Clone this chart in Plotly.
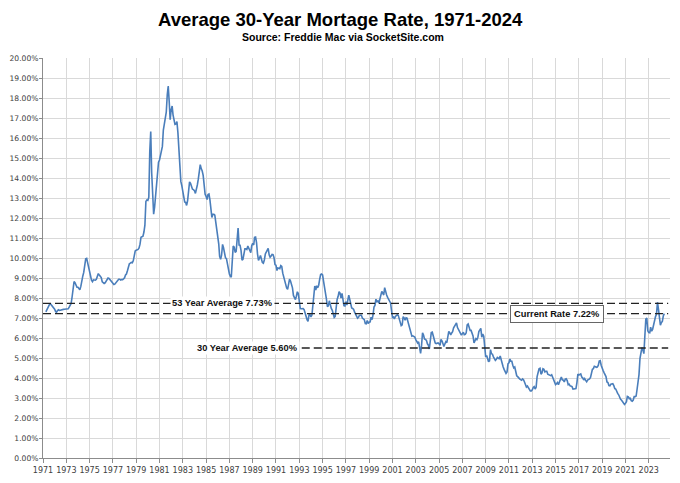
import plotly.graph_objects as go
import pandas as pd

# Monthly average 30-year fixed mortgage rate (%), starting April 1971
start_month = "1971-04-01"
rates_1970s = [
    7.31, 7.43, 7.53, 7.60, 7.70, 7.69, 7.63, 7.55, 7.48,               # 1971 Apr-Dec
    7.44, 7.32, 7.29, 7.37, 7.41, 7.38, 7.40, 7.41, 7.42, 7.43, 7.44, 7.44,  # 1972
    7.44, 7.44, 7.46, 7.54, 7.65, 7.73, 8.05, 8.50, 8.82, 8.77, 8.58, 8.54,  # 1973
    8.54, 8.46, 8.41, 8.58, 8.97, 9.09, 9.28, 9.59, 9.96, 9.98, 9.79, 9.62,  # 1974
    9.43, 9.10, 8.89, 8.82, 8.91, 8.89, 8.89, 8.94, 9.13, 9.22, 9.15, 9.10,  # 1975
    9.02, 8.81, 8.76, 8.73, 8.76, 8.85, 8.93, 9.00, 8.98, 8.92, 8.81, 8.79,  # 1976
    8.72, 8.67, 8.69, 8.75, 8.83, 8.86, 8.94, 8.94, 8.90, 8.92, 8.92, 8.96,  # 1977
    9.01, 9.15, 9.20, 9.36, 9.57, 9.71, 9.74, 9.78, 9.76, 9.86, 10.11, 10.35,  # 1978
    10.39, 10.41, 10.43, 10.50, 10.69, 11.04, 11.09, 11.09, 11.30, 11.64, 12.83, 12.90,  # 1979
]
rates_1980s = [
    12.88, 13.04, 15.28, 16.32, 14.26, 12.71, 12.19, 12.56, 13.20, 13.79, 14.21, 14.79,  # 1980
    14.90, 15.13, 15.40, 15.58, 16.40, 16.70, 16.83, 17.29, 18.16, 18.60, 17.83, 16.92,  # 1981
    17.40, 17.60, 17.16, 16.89, 16.68, 16.70, 16.82, 16.27, 15.43, 14.61, 13.83, 13.62,  # 1982
    13.25, 13.04, 12.80, 12.78, 12.63, 12.87, 13.42, 13.81, 13.73, 13.54, 13.44, 13.42,  # 1983
    13.37, 13.23, 13.39, 13.65, 13.94, 14.42, 14.67, 14.47, 14.35, 14.13, 13.64, 13.18,  # 1984
    13.08, 12.92, 13.17, 13.20, 12.91, 12.22, 12.03, 12.19, 12.19, 12.14, 11.78, 11.26,  # 1985
    10.88, 10.71, 10.08, 9.94, 10.14, 10.68, 10.51, 10.20, 10.01, 9.97, 9.70, 9.31,  # 1986
    9.20, 9.08, 9.04, 9.83, 10.60, 10.54, 10.28, 10.33, 10.89, 11.50, 10.65, 10.64,  # 1987
    10.38, 9.89, 9.93, 10.20, 10.46, 10.46, 10.43, 10.60, 10.48, 10.30, 10.27, 10.61,  # 1988
    10.73, 10.65, 11.03, 11.05, 10.77, 10.20, 9.88, 9.99, 10.13, 9.95, 9.77, 9.74,  # 1989
]
rates_1990s = [
    9.90, 10.20, 10.27, 10.37, 10.48, 10.16, 10.04, 10.10, 10.18, 10.17, 10.01, 9.67,  # 1990
    9.64, 9.37, 9.50, 9.49, 9.47, 9.62, 9.58, 9.24, 9.01, 8.86, 8.71, 8.50,  # 1991
    8.43, 8.76, 8.94, 8.85, 8.67, 8.51, 8.13, 7.98, 7.92, 8.09, 8.31, 8.22,  # 1992
    7.91, 7.47, 7.46, 7.46, 7.47, 7.42, 7.21, 7.11, 6.92, 6.83, 7.16, 7.17,  # 1993
    7.06, 7.15, 7.68, 8.32, 8.60, 8.40, 8.61, 8.51, 8.64, 8.93, 9.17, 9.20,  # 1994
    9.15, 8.83, 8.46, 8.32, 7.96, 7.57, 7.61, 7.86, 7.64, 7.48, 7.38, 7.20,  # 1995
    7.03, 7.08, 7.62, 7.93, 8.07, 8.32, 8.25, 8.00, 8.23, 7.92, 7.62, 7.60,  # 1996
    7.82, 7.65, 7.90, 8.14, 7.94, 7.69, 7.50, 7.48, 7.43, 7.29, 7.21, 7.10,  # 1997
    6.99, 7.04, 7.13, 7.14, 7.14, 7.00, 6.95, 6.92, 6.72, 6.71, 6.87, 6.72,  # 1998
    6.79, 6.81, 7.04, 6.92, 7.15, 7.55, 7.63, 7.94, 7.82, 7.85, 7.74, 7.91,  # 1999
]
rates_2000s = [
    8.21, 8.33, 8.24, 8.15, 8.52, 8.29, 8.15, 8.03, 7.91, 7.80, 7.75, 7.38,  # 2000
    7.03, 7.05, 6.95, 7.08, 7.15, 7.16, 7.13, 6.95, 6.82, 6.62, 6.66, 7.07,  # 2001
    7.00, 6.89, 7.01, 6.99, 6.81, 6.65, 6.49, 6.29, 6.09, 6.11, 6.07, 6.05,  # 2002
    5.92, 5.84, 5.75, 5.81, 5.48, 5.23, 5.63, 6.26, 6.15, 5.95, 5.93, 5.88,  # 2003
    5.71, 5.64, 5.45, 5.83, 6.27, 6.29, 6.06, 5.87, 5.75, 5.72, 5.73, 5.75,  # 2004
    5.71, 5.63, 5.93, 5.86, 5.72, 5.58, 5.70, 5.82, 5.77, 6.07, 6.33, 6.27,  # 2005
    6.15, 6.25, 6.32, 6.51, 6.60, 6.68, 6.76, 6.52, 6.40, 6.36, 6.24, 6.14,  # 2006
    6.22, 6.29, 6.16, 6.18, 6.26, 6.66, 6.70, 6.57, 6.38, 6.38, 6.21, 6.10,  # 2007
    5.76, 5.92, 5.97, 5.92, 6.04, 6.32, 6.43, 6.48, 6.04, 6.20, 6.09, 5.29,  # 2008
    5.06, 5.13, 5.00, 4.81, 4.86, 5.42, 5.22, 5.19, 5.06, 4.95, 4.88, 4.93,  # 2009
]
rates_2010s = [
    5.03, 4.99, 4.97, 5.10, 4.89, 4.74, 4.56, 4.43, 4.35, 4.23, 4.30, 4.71,  # 2010
    4.76, 4.95, 4.84, 4.84, 4.64, 4.51, 4.55, 4.27, 4.11, 4.07, 3.99, 3.96,  # 2011
    3.92, 3.89, 3.95, 3.91, 3.80, 3.68, 3.55, 3.60, 3.50, 3.38, 3.35, 3.35,  # 2012
    3.41, 3.53, 3.57, 3.45, 3.54, 4.07, 4.37, 4.46, 4.49, 4.19, 4.26, 4.46,  # 2013
    4.43, 4.30, 4.34, 4.34, 4.19, 4.16, 4.13, 4.12, 4.16, 4.04, 4.00, 3.86,  # 2014
    3.67, 3.71, 3.77, 3.67, 3.84, 3.98, 4.05, 3.91, 3.89, 3.80, 3.94, 3.96,  # 2015
    3.87, 3.66, 3.69, 3.61, 3.60, 3.57, 3.44, 3.44, 3.46, 3.47, 3.77, 4.20,  # 2016
    4.15, 4.17, 4.20, 4.05, 4.01, 3.90, 3.97, 3.88, 3.81, 3.90, 3.92, 3.95,  # 2017
    4.03, 4.33, 4.44, 4.47, 4.59, 4.57, 4.53, 4.55, 4.63, 4.85, 4.87, 4.64,  # 2018
    4.46, 4.37, 4.27, 4.14, 4.07, 3.80, 3.77, 3.62, 3.61, 3.69, 3.70, 3.72,  # 2019
]
rates_2020s = [
    3.62, 3.47, 3.45, 3.31, 3.23, 3.16, 3.02, 2.94, 2.89, 2.83, 2.77, 2.68,  # 2020
    2.74, 2.81, 3.08, 3.06, 2.96, 2.98, 2.87, 2.84, 2.90, 3.07, 3.07, 3.10,  # 2021
    3.45, 3.76, 4.17, 4.98, 5.23, 5.52, 5.41, 5.22, 6.11, 6.95, 7.00, 6.36,  # 2022
    6.27, 6.26, 6.54, 6.34, 6.43, 6.71, 6.84, 7.07, 7.20, 7.79, 7.44, 6.82,  # 2023
    6.64, 6.78, 6.82, 7.10, 7.22,                                        # 2024 Jan-May
]

avg_53yr = 7.73
avg_30yr_line = 5.5
avg_30yr_label = "30 Year Average 5.60%"
avg_53yr_label = "53 Year Average 7.73%"
current_rate = 7.22
current_label = "Current Rate 7.22%"

rates = rates_1970s + rates_1980s + rates_1990s + rates_2000s + rates_2010s + rates_2020s
dates = pd.date_range(start_month, periods=len(rates), freq="MS")

x_tick_font = dict(family="DejaVu Sans, sans-serif", size=8, color="#404040")
y_tick_font = dict(family="DejaVu Sans, sans-serif", size=7.6, color="#404040")
lab_font = dict(family="Liberation Sans, Arial, sans-serif", size=9.3, color="#111")

fig = go.Figure()
fig.add_trace(go.Scatter(
    x=dates, y=rates, mode="lines",
    line=dict(color="#4a7ebb", width=1.6),
    hoverinfo="skip", showlegend=False,
))

x_start = "1971-01-01"
x_end_line = "2024-09-01"
dash = "8px,4px"
line_style = dict(color="#222222", width=1.4, dash=dash)

fig.add_shape(type="line", xref="x", yref="y", x0=x_start, x1=x_end_line,
              y0=avg_53yr, y1=avg_53yr, line=line_style)
fig.add_shape(type="line", xref="x", yref="y", x0=x_start, x1=x_end_line,
              y0=current_rate, y1=current_rate, line=line_style)
fig.add_shape(type="line", xref="x", yref="y", x0="1986-01-01", x1=x_end_line,
              y0=avg_30yr_line, y1=avg_30yr_line, line=line_style)

fig.add_annotation(x="1986-06-01", y=avg_53yr, xref="x", yref="y",
                   text="<b>" + avg_53yr_label + "</b>", showarrow=False,
                   bgcolor="white", font=lab_font, borderpad=1)
fig.add_annotation(x="1988-08-01", y=avg_30yr_line, xref="x", yref="y",
                   text="<b>" + avg_30yr_label + "</b>", showarrow=False,
                   bgcolor="white", font=lab_font, borderpad=1)
fig.add_annotation(x="2015-02-01", y=current_rate, xref="x", yref="y",
                   text="<b>" + current_label + "</b>", showarrow=False,
                   bgcolor="white", bordercolor="#666666", borderwidth=1,
                   borderpad=3, font=lab_font)

title_family = "Liberation Sans, Arial, sans-serif"
fig.add_annotation(x=0.474, y=1.097, xref="paper", yref="paper",
                   text="<b>Average 30-Year Mortage Rate, 1971-2024</b>",
                   showarrow=False, yanchor="middle",
                   font=dict(family=title_family, size=18.5, color="#000"))
fig.add_annotation(x=0.479, y=1.052, xref="paper", yref="paper",
                   text="<b>Source: Freddie Mac via SocketSite.com</b>",
                   showarrow=False, yanchor="middle",
                   font=dict(family=title_family, size=10.5, color="#000"))

fig.update_layout(
    width=672, height=475,
    margin=dict(l=35, r=10, t=50, b=25, autoexpand=False),
    paper_bgcolor="white", plot_bgcolor="white",
    showlegend=False,
    xaxis=dict(
        type="date", range=[x_start, "2024-10-28"],
        tick0="1971-01-01", dtick="M24", tickformat="%Y", tickangle=0,
        automargin=False,
        showgrid=True, gridcolor="#d9d9d9", gridwidth=1,
        showline=True, linecolor="#8c8c8c", linewidth=1,
        ticks="outside", ticklen=4, tickcolor="#8c8c8c",
        tickfont=x_tick_font, zeroline=False,
    ),
    yaxis=dict(
        range=[0, 20], dtick=1, tick0=0, automargin=False,
        tickformat=".2f", ticksuffix="%",
        showgrid=True, gridcolor="#d9d9d9", gridwidth=1,
        showline=True, linecolor="#8c8c8c", linewidth=1,
        ticks="outside", ticklen=3, tickcolor="#8c8c8c",
        ticklabelstandoff=-1,
        tickfont=y_tick_font, zeroline=False,
    ),
)

fig.write_html("out.html")
